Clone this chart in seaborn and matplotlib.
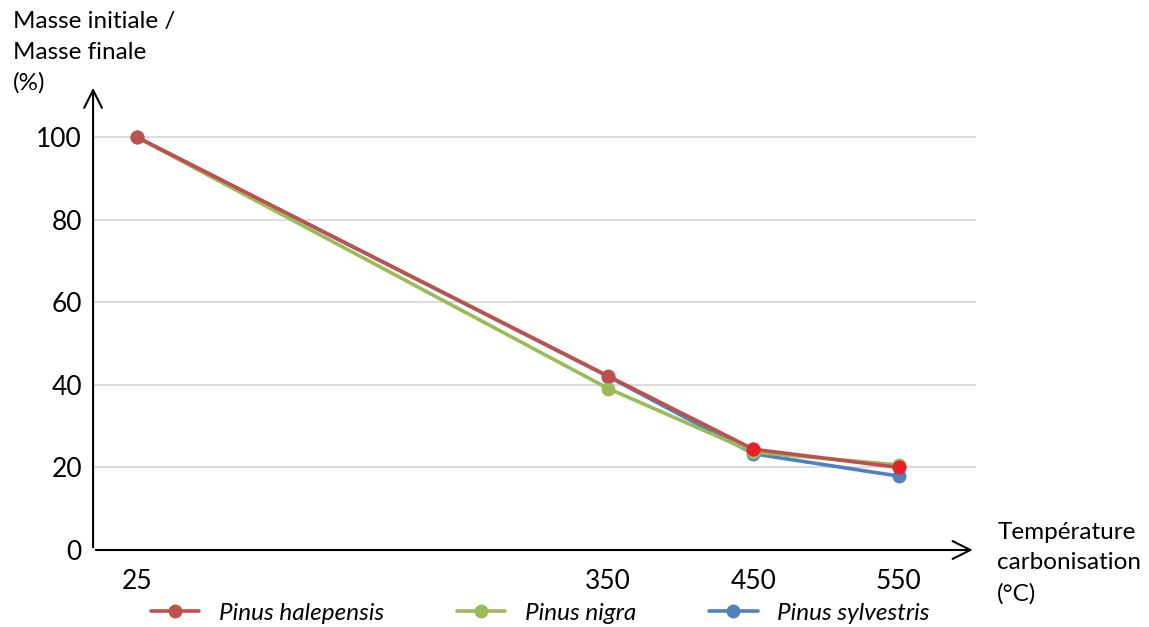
import numpy as np
import pandas as pd
import seaborn as sns
import matplotlib.pyplot as plt

# valeurs
temperatures = [25, 350, 450, 550]
halepensis = [100, 42.1, 24.4, 20.0]
nigra = [100, 39.1, 23.7, 20.6]
sylvestris = [100, 42.0, 23.3, 17.9]
especes = ['Pinus halepensis', 'Pinus nigra', 'Pinus sylvestris']
couleurs = {'Pinus halepensis': '#c0504d', 'Pinus nigra': '#9bbb59', 'Pinus sylvestris': '#4f81bd'}

df = pd.DataFrame({
    'temp': temperatures * 3,
    'masse': halepensis + nigra + sylvestris,
    'espece': np.repeat(especes, len(temperatures)),
})

sns.set_style('white')
plt.rcParams['font.family'] = ['Lato', 'DejaVu Sans']
plt.rcParams['text.color'] = 'black'
plt.rcParams['xtick.color'] = 'black'
plt.rcParams['ytick.color'] = 'black'

fig = plt.figure(figsize=(11.49, 6.27), dpi=100)
ax = fig.add_axes([0.081, 0.1228, 0.768, 0.7416])

# ordre de tracé : bleu, vert, rouge (rouge au-dessus)
for esp in ['Pinus sylvestris', 'Pinus nigra', 'Pinus halepensis']:
    sub = df[df['espece'] == esp]
    sns.lineplot(data=sub, x='temp', y='masse', color=couleurs[esp], lw=2.6,
                 marker='o', markersize=10, markeredgewidth=0, label=esp, ax=ax)

# points rouge vif (450 et 550) de Pinus halepensis
hal = df[(df['espece'] == 'Pinus halepensis') & (df['temp'] >= 450)]
sns.scatterplot(data=hal, x='temp', y='masse', color='#e8202a', s=100,
                linewidth=0, zorder=5, ax=ax, legend=False)

ax.set_xlim(-5, 603)
ax.set_ylim(0, 112.6)
ax.set_yticks([0, 20, 40, 60, 80, 100])
ax.set_xticks(temperatures)
ax.tick_params(axis='y', labelsize=19, length=0, pad=8)
ax.tick_params(axis='x', labelsize=19, length=0, pad=14)
for y in [20, 40, 60, 80, 100]:
    ax.axhline(y, color='#d9d9d9', lw=1.3, zorder=0)
for s in ax.spines.values():
    s.set_visible(False)
ax.set_xlabel('')
ax.set_ylabel('')

# axes avec flèches
ax.annotate('', xy=(1.0, 0), xytext=(0, 0), xycoords='axes fraction',
            arrowprops=dict(arrowstyle='->', color='black', lw=1.5, mutation_scale=32),
            annotation_clip=False)
ax.annotate('', xy=(0, 1.0), xytext=(0, 0), xycoords='axes fraction',
            arrowprops=dict(arrowstyle='->', color='black', lw=1.5, mutation_scale=32),
            annotation_clip=False)

fig.text(0.011, 0.982, 'Masse initiale /\nMasse finale\n(%)', fontsize=17.5,
         va='top', ha='left', linespacing=1.55)
fig.text(0.868, 0.168, 'Température\ncarbonisation\n(°C)', fontsize=17.5,
         va='top', ha='left', linespacing=1.55)

handles, labels = ax.get_legend_handles_labels()
ordre = [labels.index(e) for e in especes]
ax.legend_.remove()
leg = fig.legend([handles[i] for i in ordre], [labels[i] for i in ordre],
                 loc='center left', bbox_to_anchor=(0.112, 0.022), ncol=3,
                 frameon=False, fontsize=17.5, handlelength=2.0, columnspacing=3.0)
for t in leg.get_texts():
    t.set_fontstyle('italic')

fig.savefig('out.png', dpi=100)
